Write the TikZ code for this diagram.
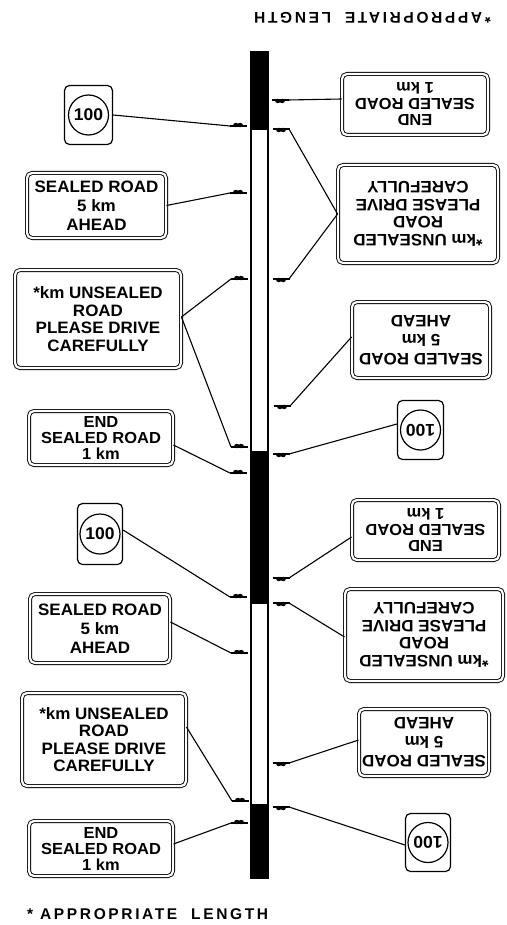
\documentclass[tikz,border=0pt]{standalone}
\usepackage{fontspec}
\setmainfont{Liberation Sans}
\newfontfamily\signfont{Liberation Sans}[FakeStretch=1.03]
\newfontfamily\capfont{Liberation Sans}[LetterSpace=17]
\usetikzlibrary{calc}

\tikzset{
  sign/.style={draw, double, double distance=2.2pt, line width=0.9pt,
    rounded corners=5pt, inner sep=0pt, align=center},
  txtA/.style={font=\signfont\bfseries\fontsize{16.5}{19}\selectfont},
  txtB/.style={font=\signfont\bfseries\fontsize{16.5}{17.5}\selectfont},
  txtC/.style={font=\signfont\bfseries\fontsize{16}{16}\selectfont},
  speed/.style={draw, line width=1.2pt, rounded corners=5pt, inner sep=0pt,
    font=\signfont\bfseries\fontsize{17}{17}\selectfont,
    path picture={\draw[line width=1.2pt] (path picture bounding box.center) circle (20pt);}},
  link/.style={line width=1.1pt},
  caption/.style={font=\capfont\bfseries\fontsize{15.5}{17}\selectfont, inner sep=0pt},
  % sign post seen from the road side: bar with two small bumps
  postL/.pic={\draw[line width=1.6pt] (-8.5,0) -- (8.5,0);
    \fill (-2.2,-1) ellipse (2.6 and 2.2); \fill (2.2,-1) ellipse (2.6 and 2.2);},
  postR/.pic={\draw[line width=1.6pt] (-8.5,0) -- (8.5,0);
    \fill (-2.2,1) ellipse (2.6 and 2.2); \fill (2.2,1) ellipse (2.6 and 2.2);},
}

\begin{document}
\begin{tikzpicture}[x=1pt,y=-1pt]
\useasboundingbox (0,0) rectangle (506,925);

% road strip: sealed sections black, unsealed sections white
\fill (251,52) rectangle (268,130);
\fill (251,451) rectangle (268,604);
\fill (251,804) rectangle (268,878);
\draw[line width=1.4pt] (251,52) rectangle (268,878);

% left-hand sign posts
\foreach \n/\x/\y in {1/238/126, 2/238/193, 3/239/279, 4/239/447, 5/238/473,
                      6/238/597, 7/239/653, 8/240/801, 9/239/823}
  {\pic at (\x,\y) {postL}; \coordinate (a\n) at (\x-8,\y);}
% right-hand sign posts
\foreach \n/\x/\y in {1/280/100, 2/281/129, 3/281/279, 4/282/406, 5/281/454,
                      6/281/578, 7/281/603, 8/281/763, 9/281/807}
  {\pic at (\x,\y) {postR}; \coordinate (b\n) at (\x+8,\y);}

% signs on the left
\node[speed, minimum width=48pt, minimum height=59pt] (L1) at (88.5,115) {100};
\node[sign, txtA, minimum width=139pt, minimum height=65pt] (L2) at (96.5,205.5)
  {SEALED ROAD\\5 km\\AHEAD};
\node[sign, txtB, minimum width=166pt, minimum height=98pt] (L3) at (98,319)
  {*km UNSEALED\\ROAD\\PLEASE DRIVE\\CAREFULLY};
\node[sign, txtC, minimum width=144pt, minimum height=54pt] (L4) at (101,438)
  {END\\SEALED ROAD\\1 km};
\node[speed, minimum width=45pt, minimum height=61pt] (L5) at (100,534) {100};
\node[sign, txtA, minimum width=140pt, minimum height=69pt] (L6) at (100,628.5)
  {SEALED ROAD\\5 km\\AHEAD};
\node[sign, txtB, minimum width=164pt, minimum height=93pt] (L7) at (104,739.5)
  {*km UNSEALED\\ROAD\\PLEASE DRIVE\\CAREFULLY};
\node[sign, txtC, minimum width=144pt, minimum height=55pt] (L8) at (101,848.5)
  {END\\SEALED ROAD\\1 km};

% signs on the right, facing the opposite direction
\node[sign, txtC, rotate=180, minimum width=146pt, minimum height=61pt] (R1) at (415,104.5)
  {END\\SEALED ROAD\\1 km};
\node[sign, txtB, rotate=180, minimum width=160pt, minimum height=98pt] (R2) at (418,214)
  {*km UNSEALED\\ROAD\\PLEASE DRIVE\\CAREFULLY};
\node[sign, txtA, rotate=180, minimum width=138pt, minimum height=76pt] (R3) at (421,340)
  {SEALED ROAD\\5 km\\AHEAD};
\node[speed, rotate=180, minimum width=46pt, minimum height=59pt] (R4) at (420.5,430) {100};
\node[sign, txtC, rotate=180, minimum width=147pt, minimum height=60pt] (R5) at (425.5,530)
  {END\\SEALED ROAD\\1 km};
\node[sign, txtB, rotate=180, minimum width=158pt, minimum height=92pt] (R6) at (424,635)
  {*km UNSEALED\\ROAD\\PLEASE DRIVE\\CAREFULLY};
\node[sign, txtA, rotate=180, minimum width=130pt, minimum height=67pt] (R7) at (424,742.5)
  {SEALED ROAD\\5 km\\AHEAD};
\node[speed, rotate=180, minimum width=45pt, minimum height=58pt] (R8) at (428,842.5) {100};

% leaders from left signs to their posts
\draw[link] (L1.east) -- (a1);
\draw[link] (L2.east) -- (a2);
\draw[link] ($(L3.east)+(0,-2)$) -- (a3);
\draw[link] ($(L3.east)+(0,-2)$) -- (a4);
\draw[link] ($(L4.east)+(0,7)$) -- (a5);
\draw[link] ($(L5.east)+(0,-4)$) -- (a6);
\draw[link] ($(L6.east)+(0,-6.5)$) -- (a7);
\draw[link] ($(L7.east)+(0,-12.5)$) -- (a8);
\draw[link] ($(L8.east)+(0,-4.5)$) -- (a9);

% leaders from right signs (their east anchor faces the road) to their posts
\draw[link] ($(R1.east)+(0,-5.5)$) -- (b1);
\draw[link] (R2.east) -- (b2);
\draw[link] (R2.east) -- (b3);
\draw[link] ($(R3.east)+(0,-3)$) -- (b4);
\draw[link] ($(R4.east)+(0,-6)$) -- (b5);
\draw[link] ($(R5.east)+(0,7)$) -- (b6);
\draw[link] ($(R6.east)+(0,2)$) -- (b7);
\draw[link] ($(R7.east)+(0,-2.5)$) -- (b8);
\draw[link] ($(R8.east)+(0,2.5)$) -- (b9);

% footnotes for both directions
\node[caption, rotate=180] (capT) at (372.5,18) {*APPROPRIATE\ \ LENGTH};
\node[caption, anchor=west] (capB) at (27,914) {*\ APPROPRIATE\ \ LENGTH};
\end{tikzpicture}
\end{document}
